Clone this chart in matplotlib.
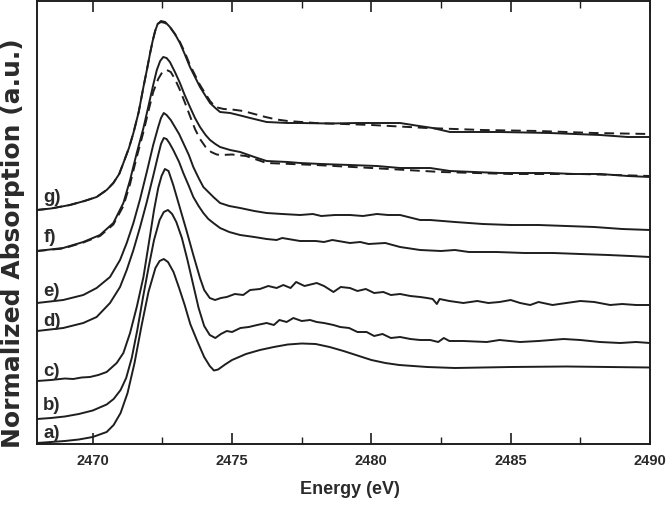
import matplotlib
matplotlib.use("Agg")
import matplotlib.pyplot as plt
from matplotlib.ticker import MultipleLocator

# ---------------- data (Energy in eV, normalized absorption in a.u., offset stacked) ----------------
energy_a = [2468.0, 2468.5, 2469.0, 2469.5, 2470.0, 2470.5, 2470.75, 2471.0, 2471.25, 2471.5,
            2471.75, 2472.0, 2472.25, 2472.4, 2472.55, 2472.7, 2472.9, 2473.1, 2473.3, 2473.5,
            2473.75, 2474.0, 2474.2, 2474.35, 2474.5, 2474.75, 2475.0, 2475.5, 2476.0, 2476.5,
            2477.0, 2477.5, 2478.0, 2478.5, 2479.0, 2479.5, 2480.0, 2480.5, 2481.0, 2482.0,
            2483.0, 2485.0, 2487.0, 2490.0]
absorb_a = [0.01, 0.02, 0.03, 0.045, 0.07, 0.12, 0.19, 0.31, 0.51, 0.81,
            1.18, 1.52, 1.76, 1.83, 1.85, 1.82, 1.72, 1.56, 1.39, 1.20,
            1.03, 0.87, 0.78, 0.735, 0.745, 0.795, 0.84, 0.90, 0.94, 0.97,
            0.995, 1.005, 1.00, 0.97, 0.93, 0.885, 0.84, 0.81, 0.79, 0.77,
            0.76, 0.77, 0.775, 0.765]

energy_b = [2468.0, 2468.5, 2469.0, 2469.5, 2470.0, 2470.5, 2470.75, 2471.0, 2471.2, 2471.4,
            2471.6, 2471.8, 2472.0, 2472.2, 2472.4, 2472.55, 2472.7, 2472.85, 2473.0, 2473.2,
            2473.4, 2473.6, 2473.8, 2474.0, 2474.2, 2474.4, 2474.6, 2474.81, 2475.0, 2475.3,
            2475.6, 2475.9, 2476.24, 2476.5, 2476.7, 2476.96, 2477.2, 2477.5, 2477.8, 2478.04,
            2478.3, 2478.64, 2478.88, 2479.2, 2479.5, 2479.83, 2480.1, 2480.4, 2480.7, 2481.03,
            2481.4, 2481.75, 2482.11, 2482.4, 2482.6, 2482.8, 2483.3, 2484.14, 2484.6, 2485.34,
            2486.0, 2486.9, 2487.5, 2488.2, 2488.93, 2489.5, 2490.0]
absorb_b = [0.25, 0.26, 0.275, 0.30, 0.335, 0.395, 0.45, 0.54, 0.66, 0.86,
            1.14, 1.46, 1.76, 2.04, 2.24, 2.32, 2.34, 2.30, 2.22, 2.06,
            1.84, 1.60, 1.36, 1.18, 1.09, 1.06, 1.10, 1.13, 1.12, 1.16,
            1.17, 1.19, 1.21, 1.19, 1.24, 1.22, 1.26, 1.23, 1.24, 1.22,
            1.21, 1.19, 1.17, 1.16, 1.12, 1.12, 1.08, 1.10, 1.06, 1.07,
            1.05, 1.04, 1.04, 1.02, 1.06, 1.03, 1.03, 1.02, 1.04, 1.02,
            1.03, 1.05, 1.04, 1.02, 1.01, 1.02, 1.01]

energy_c = [2468.0, 2468.5, 2469.0, 2469.3, 2469.6, 2469.9, 2470.2, 2470.5, 2470.86, 2471.1,
            2471.34, 2471.58, 2471.82, 2472.06, 2472.2, 2472.35, 2472.47, 2472.59, 2472.72, 2472.89,
            2473.13, 2473.37, 2473.61, 2473.85, 2474.0, 2474.2, 2474.39, 2474.6, 2474.81, 2475.1,
            2475.4, 2475.65, 2476.0, 2476.3, 2476.6, 2476.84, 2477.1, 2477.3, 2477.6, 2478.04,
            2478.3, 2478.64, 2478.9, 2479.23, 2479.5, 2479.8, 2480.1, 2480.43, 2480.7, 2481.03,
            2481.4, 2481.75, 2482.0, 2482.2, 2482.35, 2482.45, 2482.8, 2483.3, 2483.8, 2484.2,
            2484.6, 2485.0, 2485.34, 2485.7, 2486.0, 2486.5, 2487.0, 2487.5, 2488.0, 2488.57,
            2489.0, 2489.5, 2490.0]
absorb_c = [0.63, 0.64, 0.655, 0.65, 0.665, 0.67, 0.69, 0.72, 0.81, 0.91,
            1.11, 1.37, 1.67, 2.09, 2.34, 2.56, 2.68, 2.75, 2.73, 2.59,
            2.36, 2.13, 1.89, 1.66, 1.54, 1.46, 1.44, 1.46, 1.47, 1.50,
            1.49, 1.54, 1.55, 1.58, 1.56, 1.59, 1.56, 1.62, 1.58, 1.61,
            1.58, 1.52, 1.57, 1.56, 1.53, 1.55, 1.51, 1.52, 1.49, 1.50,
            1.48, 1.47, 1.46, 1.45, 1.40, 1.45, 1.43, 1.41, 1.43, 1.41,
            1.42, 1.44, 1.41, 1.39, 1.42, 1.39, 1.41, 1.43, 1.42, 1.39,
            1.40, 1.39, 1.39]

energy_d = [2468.0, 2468.94, 2469.66, 2470.14, 2470.62, 2470.98, 2471.22, 2471.46, 2471.70, 2471.94,
            2472.17, 2472.35, 2472.45, 2472.55, 2472.65, 2472.75, 2472.89, 2473.1, 2473.25, 2473.45,
            2473.61, 2473.8, 2473.97, 2474.15, 2474.33, 2474.57, 2474.9, 2475.29, 2475.8, 2476.24,
            2476.6, 2476.8, 2477.44, 2478.0, 2478.3, 2478.6, 2479.23, 2479.6, 2479.9, 2480.5,
            2481.03, 2481.75, 2482.5, 2483.0, 2483.5, 2484.5, 2485.5, 2486.53, 2487.5, 2488.5,
            2489.3, 2490.0]
absorb_d = [1.13, 1.16, 1.21, 1.27, 1.41, 1.57, 1.74, 1.94, 2.17, 2.42,
            2.68, 2.89, 3.00, 3.06, 3.05, 3.01, 2.94, 2.82, 2.71, 2.58,
            2.47, 2.38, 2.31, 2.25, 2.21, 2.16, 2.12, 2.09, 2.07, 2.05,
            2.04, 2.06, 2.03, 2.03, 2.02, 2.04, 2.01, 2.02, 2.00, 2.01,
            1.97, 1.94, 1.93, 1.94, 1.92, 1.92, 1.91, 1.91, 1.90, 1.89,
            1.88, 1.87]

energy_e = [2468.0, 2468.94, 2469.66, 2470.14, 2470.62, 2470.98, 2471.22, 2471.46, 2471.70, 2471.94,
            2472.17, 2472.35, 2472.45, 2472.55, 2472.65, 2472.8, 2472.95, 2473.1, 2473.25, 2473.45,
            2473.61, 2473.8, 2473.97, 2474.15, 2474.33, 2474.57, 2474.9, 2475.29, 2475.8, 2476.24,
            2476.8, 2477.44, 2477.9, 2478.2, 2478.7, 2479.23, 2479.7, 2480.2, 2480.6, 2481.03,
            2481.75, 2482.11, 2483.0, 2484.0, 2485.0, 2486.0, 2487.0, 2488.0, 2489.0, 2490.0]
absorb_e = [1.41, 1.44, 1.49, 1.56, 1.67, 1.84, 2.01, 2.21, 2.45, 2.72,
            2.99, 3.17, 3.26, 3.31, 3.29, 3.24, 3.17, 3.10, 3.01, 2.89,
            2.77, 2.66, 2.57, 2.52, 2.47, 2.41, 2.38, 2.36, 2.33, 2.31,
            2.30, 2.29, 2.30, 2.28, 2.29, 2.29, 2.28, 2.30, 2.29, 2.29,
            2.24, 2.24, 2.22, 2.20, 2.19, 2.19, 2.18, 2.17, 2.15, 2.14]

energy_f = [2468.0, 2468.94, 2469.66, 2470.26, 2470.74, 2471.10, 2471.34, 2471.58, 2471.82, 2472.0,
            2472.17, 2472.3, 2472.42, 2472.53, 2472.65, 2472.77, 2472.95, 2473.13, 2473.3, 2473.49,
            2473.67, 2473.85, 2474.05, 2474.21, 2474.4, 2474.57, 2474.93, 2475.29, 2475.8, 2476.24,
            2477.0, 2477.44, 2478.2, 2479.23, 2480.2, 2481.03, 2482.11, 2482.82, 2483.7, 2484.62,
            2485.5, 2486.41, 2487.3, 2488.21, 2489.2, 2490.0]
absorb_f = [1.93, 1.96, 2.02, 2.09, 2.21, 2.41, 2.64, 2.91, 3.16, 3.38,
            3.59, 3.74, 3.83, 3.87, 3.86, 3.82, 3.72, 3.61, 3.49, 3.37,
            3.26, 3.17, 3.09, 3.04, 3.00, 2.97, 2.94, 2.92, 2.87, 2.83,
            2.82, 2.81, 2.80, 2.79, 2.78, 2.76, 2.76, 2.73, 2.72, 2.71,
            2.71, 2.71, 2.70, 2.70, 2.68, 2.67]

energy_f_fit = [2468.0, 2468.94, 2469.66, 2470.26, 2470.74, 2471.10, 2471.34, 2471.58, 2471.82, 2472.0,
                2472.17, 2472.35, 2472.5, 2472.66, 2472.8, 2472.95, 2473.13, 2473.3, 2473.49, 2473.67,
                2473.85, 2474.05, 2474.25, 2474.45, 2474.6, 2475.0, 2475.5, 2476.24, 2478.0, 2480.0,
                2482.5, 2485.0, 2487.5, 2490.0]
absorb_f_fit = [1.93, 1.955, 2.015, 2.08, 2.195, 2.38, 2.60, 2.87, 3.12, 3.33,
                3.52, 3.65, 3.72, 3.74, 3.72, 3.65, 3.54, 3.42, 3.28, 3.15,
                3.05, 2.97, 2.92, 2.895, 2.89, 2.895, 2.88, 2.81, 2.79, 2.76,
                2.72, 2.70, 2.70, 2.68]

energy_g = [2468.0, 2468.5, 2469.18, 2469.7, 2470.14, 2470.5, 2470.74, 2470.95, 2471.1, 2471.3,
            2471.46, 2471.65, 2471.82, 2471.95, 2472.06, 2472.15, 2472.24, 2472.33, 2472.45, 2472.6,
            2472.77, 2472.95, 2473.13, 2473.3, 2473.49, 2473.67, 2473.85, 2474.05, 2474.21, 2474.4,
            2474.57, 2474.93, 2475.3, 2475.65, 2476.24, 2477.0, 2477.44, 2478.5, 2479.5, 2481.03,
            2481.6, 2482.2, 2482.82, 2484.62, 2486.41, 2488.21, 2489.2, 2490.0]
absorb_g = [2.34, 2.355, 2.39, 2.43, 2.47, 2.54, 2.61, 2.70, 2.81, 2.96,
            3.11, 3.32, 3.57, 3.75, 3.91, 4.03, 4.13, 4.20, 4.23, 4.22,
            4.17, 4.10, 4.01, 3.90, 3.77, 3.67, 3.57, 3.48, 3.41, 3.36,
            3.32, 3.31, 3.285, 3.26, 3.22, 3.21, 3.21, 3.205, 3.21, 3.21,
            3.185, 3.16, 3.12, 3.12, 3.11, 3.09, 3.07, 3.07]

energy_g_fit = [2468.0, 2468.5, 2469.18, 2469.7, 2470.14, 2470.5, 2470.74, 2470.95, 2471.1, 2471.3,
                2471.46, 2471.65, 2471.82, 2471.95, 2472.06, 2472.15, 2472.24, 2472.33, 2472.45, 2472.6,
                2472.77, 2472.95, 2473.13, 2473.3, 2473.49, 2473.67, 2473.85, 2474.05, 2474.21, 2474.4,
                2474.7, 2475.0, 2475.4, 2475.8, 2476.2, 2476.6, 2477.0, 2478.0, 2480.0, 2482.0,
                2484.0, 2486.0, 2488.0, 2490.0]
absorb_g_fit = [2.34, 2.355, 2.39, 2.43, 2.47, 2.54, 2.61, 2.70, 2.81, 2.96,
                3.11, 3.32, 3.57, 3.75, 3.91, 4.03, 4.13, 4.20, 4.22, 4.21,
                4.17, 4.10, 4.02, 3.92, 3.79, 3.69, 3.59, 3.50, 3.43, 3.37,
                3.35, 3.345, 3.33, 3.30, 3.27, 3.245, 3.23, 3.21, 3.19, 3.16,
                3.14, 3.13, 3.11, 3.10]

curve_labels = ["a)", "b)", "c)", "d)", "e)", "f)", "g)"]
label_levels = [0.11, 0.39, 0.72, 1.22, 1.52, 2.06, 2.46]

x_ticks = [2470, 2475, 2480, 2485, 2490]
x_label = "Energy (eV)"
y_label = "Normalized Absorption (a.u.)"

# ---------------- drawing ----------------
ink = "#1e1e1e"
txt = "#2a2a2a"
fam = ["Liberation Sans", "DejaVu Sans"]

fig = plt.figure(figsize=(6.66, 5.09), dpi=100)
ax = fig.add_axes([37 / 666, 1 - 444 / 509, (650 - 37) / 666, 443 / 509])

lw = 1.4
for e, a in [(energy_a, absorb_a), (energy_b, absorb_b), (energy_c, absorb_c),
             (energy_d, absorb_d), (energy_e, absorb_e), (energy_f, absorb_f), (energy_g, absorb_g)]:
    ax.plot(e, a, color=ink, lw=lw, solid_joinstyle="round", solid_capstyle="round")
for e, a in [(energy_f_fit, absorb_f_fit), (energy_g_fit, absorb_g_fit)]:
    ax.plot(e, a, color=ink, lw=lw, ls=(0, (5, 3)))

for lab, lev in zip(curve_labels, label_levels):
    ax.text(2468.22, lev, lab, family=fam, fontweight="bold",
            fontsize=13.5, color=txt, ha="left", va="center")

ax.set_xlim(2468, 2490)
ax.set_ylim(0, 4.43)
ax.set_xticks(x_ticks)
ax.xaxis.set_minor_locator(MultipleLocator(2.5))
ax.tick_params(axis="x", which="major", direction="in", length=8, width=1.2, top=True,
               color=ink, labelsize=10.5, pad=7)
ax.tick_params(axis="x", which="minor", direction="in", length=5, width=1.0, top=True, color=ink)
ax.tick_params(axis="y", which="both", left=False, right=False, labelleft=False)
for lbl in ax.get_xticklabels():
    lbl.set_family(fam)
    lbl.set_fontweight("bold")
    lbl.set_color(txt)

for s in ax.spines.values():
    s.set_linewidth(1.4)
    s.set_color(ink)

fig.text(350 / 666, 1 - 490 / 509, x_label, family=fam, fontweight="bold", fontsize=13,
         color=txt, ha="center", va="center")
fig.text(13 / 666, 1 - 243 / 509, y_label, rotation=90, family="DejaVu Sans", fontweight="bold",
         fontsize=18, color=txt, ha="center", va="center")

fig.savefig("out.png", dpi=100)
